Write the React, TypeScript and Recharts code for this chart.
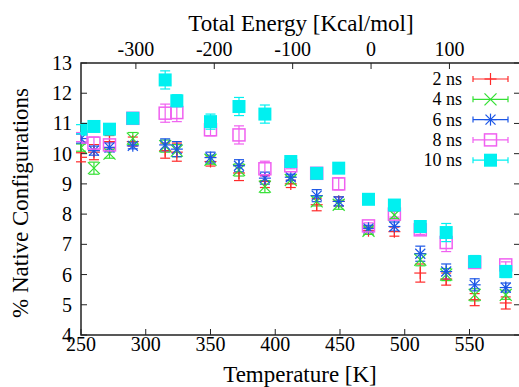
import { ComposedChart, Scatter, XAxis, YAxis, ErrorBar, ReferenceArea, Customized } from "recharts";

const temps = [250, 260, 272, 290, 315, 324, 350, 372, 392, 412, 432, 449, 472, 492, 512, 532, 554, 578];

const ns2 = [9.88, 10.05, 10.4, 10.4, 10.1, 10.05, 9.74, 9.36, 9.08, 9.0, 8.31, 8.42, 7.45, 7.42, 6.05, 5.85, 5.17, 5.06];
const ns4 = [10.2, 9.52, 10.0, 10.5, 10.25, 10.1, 9.8, 9.46, 8.91, 9.13, 8.42, 8.31, 7.45, 7.97, 6.49, 6.0, 5.33, 5.33];
const ns6 = [10.5, 10.1, 10.21, 10.26, 10.29, 10.15, 9.87, 9.6, 9.19, 9.22, 8.61, 8.42, 7.53, 7.59, 6.69, 6.1, 5.66, 5.57];
const ns8 = [10.55, 10.35, 10.29, 11.17, 11.34, 11.36, 10.79, 10.62, 9.5, 9.6, 9.35, 9.0, 7.61, 8.0, 7.48, 7.06, 6.4, 6.32];
const ns10 = [10.81, 10.9, 10.81, 11.17, 12.44, 11.75, 11.06, 11.56, 11.31, 9.74, 9.35, 9.52, 8.49, 8.3, 7.59, 7.39, 6.43, 6.1];

const err2 = [0.15, 0.25, 0.2, 0.15, 0.25, 0.3, 0.15, 0.25, 0.2, 0.12, 0.2, 0.15, 0.12, 0.15, 0.3, 0.2, 0.2, 0.2];
const err4 = [0.12, 0.2, 0.15, 0.2, 0.2, 0.2, 0.15, 0.2, 0.2, 0.12, 0.15, 0.15, 0.12, 0.12, 0.2, 0.2, 0.2, 0.15];
const err6 = [0.15, 0.15, 0.15, 0.1, 0.2, 0.25, 0.18, 0.2, 0.2, 0.1, 0.2, 0.15, 0.1, 0.15, 0.25, 0.25, 0.2, 0.15];
const err8 = [0.15, 0.2, 0.1, 0.1, 0.3, 0.3, 0.2, 0.3, 0.25, 0.1, 0.1, 0.2, 0.1, 0.1, 0.15, 0.3, 0.15, 0.1];
const err10 = [0.15, 0.1, 0.1, 0.1, 0.3, 0.2, 0.25, 0.3, 0.3, 0.1, 0.1, 0.1, 0.1, 0.1, 0.1, 0.3, 0.2, 0.2];

const tempTicks = [250, 300, 350, 400, 450, 500, 550];
const energyTicks = [-300, -200, -100, 0, 100];
const yTicks = [4, 5, 6, 7, 8, 9, 10, 11, 12, 13];

const FONT = "'Liberation Serif', 'DejaVu Serif', Times, serif";
const txt = { fontFamily: FONT, fill: "#000" };
const L = 81, R = 520, T = 63, B = 335;

// gnuplot style point types
const Marker = ({ kind, cx, cy, color }: any) => {
  if (kind === "plus")
    return (
      <g stroke={color} strokeWidth={1.2}>
        <line x1={cx - 6} x2={cx + 6} y1={cy} y2={cy} />
        <line x1={cx} x2={cx} y1={cy - 6} y2={cy + 6} />
      </g>
    );
  if (kind === "cross")
    return (
      <g stroke={color} strokeWidth={1.2}>
        <line x1={cx - 6} x2={cx + 6} y1={cy - 6} y2={cy + 6} />
        <line x1={cx - 6} x2={cx + 6} y1={cy + 6} y2={cy - 6} />
      </g>
    );
  if (kind === "star")
    return (
      <g stroke={color} strokeWidth={1.2}>
        <line x1={cx - 6} x2={cx + 6} y1={cy} y2={cy} />
        <line x1={cx} x2={cx} y1={cy - 6} y2={cy + 6} />
        <line x1={cx - 5} x2={cx + 5} y1={cy - 5} y2={cy + 5} />
        <line x1={cx - 5} x2={cx + 5} y1={cy + 5} y2={cy - 5} />
      </g>
    );
  if (kind === "box")
    return <rect x={cx - 6} y={cy - 6} width={12} height={12} fill="none" stroke={color} strokeWidth={1.5} />;
  return <rect x={cx - 6.5} y={cy - 6.5} width={13} height={13} fill={color} />;
};

const series = [
  { name: "2 ns", vals: ns2, errs: err2, color: "#ff2a2a", kind: "plus" },
  { name: "4 ns", vals: ns4, errs: err4, color: "#33e033", kind: "cross" },
  { name: "6 ns", vals: ns6, errs: err6, color: "#1a55e6", kind: "star" },
  { name: "8 ns", vals: ns8, errs: err8, color: "#f060f0", kind: "box" },
  { name: "10 ns", vals: ns10, errs: err10, color: "#00f0f0", kind: "fbox" },
].map((s) => ({ ...s, data: temps.map((t, i) => ({ t, v: s.vals[i], e: s.errs[i] })) }));

// only there so the top energy axis gets drawn
const energyAnchor = energyTicks.map((en) => ({ en, v: 4 }));

const YTick = ({ y, payload }: any) => (
  <g>
    <text x={72} y={y} dy={7} textAnchor="end" fontSize={20} style={txt}>
      {payload.value}
    </text>
    <line x1={L} x2={L + 6} y1={y} y2={y} stroke="#222" />
    <line x1={R} x2={R - 6} y1={y} y2={y} stroke="#222" />
  </g>
);

const XTick = ({ x, payload }: any) => (
  <g>
    <text x={x} y={351} textAnchor="middle" fontSize={20} style={txt}>
      {payload.value}
    </text>
    <line x1={x} x2={x} y1={B} y2={B - 6} stroke="#222" />
  </g>
);

const TopTick = ({ x, payload }: any) => (
  <g>
    <text x={x} y={56} textAnchor="middle" fontSize={20} style={txt}>
      {payload.value}
    </text>
    <line x1={x} x2={x} y1={T} y2={T + 6} stroke="#222" />
  </g>
);

const Extras = () => (
  <g>
    <text x={301} y={31} textAnchor="middle" fontSize={23} style={txt}>Total Energy [Kcal/mol]</text>
    <text x={300} y={382} textAnchor="middle" fontSize={23} style={txt}>Temperature [K]</text>
    <text x={28} y={203} textAnchor="middle" fontSize={23} style={txt} transform="rotate(-90 28 203)">
      % Native Configurations
    </text>
    {series.map((s, i) => {
      const y = 79 + i * 20.3;
      return (
        <g key={s.name}>
          <text x={462} y={y} dy={6} textAnchor="end" fontSize={18} style={txt}>{s.name}</text>
          <g stroke={s.color} strokeWidth={1.2}>
            <line x1={473} x2={508} y1={y} y2={y} />
            <line x1={473} x2={473} y1={y - 3} y2={y + 3} />
            <line x1={508} x2={508} y1={y - 3} y2={y + 3} />
          </g>
          <Marker kind={s.kind} cx={490.5} cy={y} color={s.color} />
        </g>
      );
    })}
  </g>
);

export default function App() {
  return (
    <div style={{ position: "absolute", left: 0, top: 0, width: 519, height: 387, overflow: "hidden", background: "#fff", fontFamily: FONT }}>
      <ComposedChart width={521} height={387} margin={{ top: 0, right: 1, bottom: 0, left: 0 }}>
        <XAxis
          xAxisId="temp"
          dataKey="t"
          type="number"
          domain={[250, 589]}
          ticks={tempTicks}
          allowDataOverflow
          height={52}
          axisLine={false}
          tickLine={false}
          tick={<XTick />}
        />
        <XAxis
          xAxisId="energy"
          dataKey="en"
          orientation="top"
          type="number"
          domain={[-370, 190]}
          ticks={energyTicks}
          allowDataOverflow
          height={63}
          axisLine={false}
          tickLine={false}
          tick={<TopTick />}
        />
        <YAxis
          type="number"
          domain={[4, 13]}
          ticks={yTicks}
          allowDataOverflow
          width={81}
          axisLine={false}
          tickLine={false}
          tick={<YTick />}
        />
        <ReferenceArea xAxisId="temp" x1={250} x2={589} y1={4} y2={13} fill="none" stroke="#222" strokeWidth={1.5} />
        <Scatter
          xAxisId="energy"
          data={energyAnchor}
          dataKey="v"
          legendType="none"
          isAnimationActive={false}
          shape={() => <g />}
        />
        {series.map((s) => (
          <Scatter
            key={s.name}
            xAxisId="temp"
            name={s.name}
            data={s.data}
            dataKey="v"
            isAnimationActive={false}
            shape={(p: any) => <Marker kind={s.kind} cx={p.cx} cy={p.cy} color={s.color} />}
          >
            <ErrorBar dataKey="e" direction="y" width={5} stroke={s.color} strokeWidth={1.2} isAnimationActive={false} />
          </Scatter>
        ))}
        <Customized component={Extras} />
      </ComposedChart>
    </div>
  );
}
